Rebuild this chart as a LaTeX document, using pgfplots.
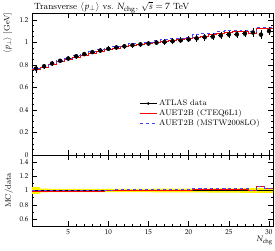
\documentclass[border=0pt]{standalone}
\usepackage[osf]{mathpazo}
\usepackage{pgfplots}
\pgfplotsset{compat=1.18}
\usepackage{pgfplotstable}
\usepgfplotslibrary{fillbetween}

\pgfplotstableread{
N y ey
1 0.767 0.036
2 0.787 0.020
3 0.812 0.019
4 0.836 0.019
5 0.856 0.019
6 0.876 0.020
7 0.895 0.020
8 0.913 0.021
9 0.927 0.021
10 0.942 0.022
11 0.954 0.022
12 0.965 0.023
13 0.975 0.023
14 0.982 0.024
15 0.989 0.024
16 0.997 0.025
17 1.003 0.025
18 1.010 0.026
19 1.017 0.026
20 1.026 0.027
21 1.035 0.028
22 1.045 0.029
23 1.050 0.030
24 1.061 0.031
25 1.069 0.032
26 1.071 0.033
27 1.077 0.034
28 1.087 0.036
29 1.068 0.037
30 1.100 0.038
}\datatab

\pgfplotstableread{
edge red blue rred rblue up lo
0.5 0.759 0.767 0.990 1.000 1.047 0.953
1.5 0.779 0.787 0.990 1.000 1.025 0.975
2.5 0.804 0.812 0.990 1.000 1.023 0.977
3.5 0.828 0.836 0.990 1.000 1.023 0.977
4.5 0.847 0.856 0.990 1.000 1.022 0.978
5.5 0.867 0.880 0.990 1.005 1.023 0.977
6.5 0.886 0.899 0.990 1.005 1.022 0.978
7.5 0.904 0.918 0.990 1.005 1.023 0.977
8.5 0.918 0.932 0.990 1.005 1.023 0.977
9.5 0.937 0.947 0.995 1.005 1.023 0.977
10.5 0.949 0.964 0.995 1.010 1.023 0.977
11.5 0.960 0.975 0.995 1.010 1.024 0.976
12.5 0.975 0.985 1.000 1.010 1.024 0.976
13.5 0.982 0.992 1.000 1.010 1.024 0.976
14.5 0.989 0.999 1.000 1.010 1.024 0.976
15.5 0.997 1.017 1.000 1.020 1.025 0.975
16.5 1.003 1.023 1.000 1.020 1.025 0.975
17.5 1.015 1.030 1.005 1.020 1.026 0.974
18.5 1.022 1.037 1.005 1.020 1.026 0.974
19.5 1.031 1.047 1.005 1.020 1.026 0.974
20.5 1.045 1.066 1.010 1.030 1.027 0.973
21.5 1.055 1.076 1.010 1.030 1.028 0.972
22.5 1.066 1.082 1.015 1.030 1.029 0.971
23.5 1.077 1.093 1.015 1.030 1.029 0.971
24.5 1.090 1.101 1.020 1.030 1.030 0.970
25.5 1.092 1.103 1.020 1.030 1.031 0.969
26.5 1.099 1.109 1.020 1.030 1.032 0.968
27.5 1.082 1.092 0.995 1.005 1.033 0.967
28.5 1.125 1.130 1.053 1.058 1.035 0.965
29.5 1.125 1.135 1.023 1.032 1.035 0.965
30.5 1.125 1.135 1.023 1.032 1.035 0.965
}\steptab

\definecolor{mcblue}{RGB}{70,70,255}

\begin{document}
\begin{tikzpicture}
\pgfplotsset{common/.style={
  scale only axis, width=241pt, xmin=0.5, xmax=30.5,
  tick align=inside, xtick={5,10,15,20,25,30}, minor x tick num=4,
  xtick pos=both, ytick pos=both,
  major tick length=5pt, minor tick length=2.5pt,
  tick label style={font=\scriptsize},
  axis line style={line width=0.5pt},
  every tick/.style={black, line width=0.4pt},
}}
\begin{axis}[common, name=main, at={(0,0)}, anchor=south west, height=142pt,
  ymin=0, ymax=1.26, ytick={0,0.2,0.4,0.6,0.8,1,1.2}, minor y tick num=3,
  xticklabels={},
  ylabel={$\langle p_\perp\rangle$ [GeV]},
  ylabel style={at={(axis description cs:-0.083,1)}, anchor=south east, font=\footnotesize, inner sep=0pt},
  legend style={at={(0.44,0.41)}, anchor=north west, draw=none, fill=none,
    font=\footnotesize, row sep=-1.5pt, inner sep=1pt},
  legend cell align=left,
]
\addlegendimage{legend image code/.code={
  \draw[black, line width=0.6pt] (0cm,0cm) -- (0.6cm,0cm);
  \fill[black] (0.3cm,0cm) circle (1.1pt);}}
\addlegendentry{ATLAS data}
\addlegendimage{legend image code/.code={
  \draw[red, line width=0.9pt] (0cm,0cm) -- (0.6cm,0cm);}}
\addlegendentry{AUET2B (CTEQ6L1)}
\addlegendimage{legend image code/.code={
  \draw[mcblue, dashed, line width=0.9pt] (0cm,0cm) -- (0.6cm,0cm);}}
\addlegendentry{AUET2B (MSTW2008LO)}
\addplot[color=red, line width=1pt, const plot mark left, forget plot] table[x=edge, y=red] {\steptab};
\addplot[color=mcblue, dashed, line width=1pt, const plot mark left, forget plot] table[x=edge, y=blue] {\steptab};
\addplot[black, only marks, mark=*, mark size=1pt, forget plot,
  error bars/.cd, y dir=both, y explicit, error mark=none,
  error bar style={line width=0.5pt}]
  table[x=N, y=y, y error=ey] {\datatab};
\addplot[black, only marks, mark=none, forget plot,
  error bars/.cd, x dir=both, x fixed=0.3, error mark=none,
  error bar style={line width=0.5pt}]
  table[x=N, y=y] {\datatab};
\end{axis}
\node[anchor=base west, inner sep=0pt, font=\small] at ([xshift=2pt,yshift=4pt]main.north west)
  {Transverse $\langle p_\perp\rangle$ vs.\ $N_{\mathrm{chg}}$, $\sqrt{s}=7$ TeV};
\begin{axis}[common, at={(0,0)}, anchor=north west, height=71pt,
  ymin=0.5, ymax=1.5, ytick={0.6,0.8,1,1.2,1.4}, minor y tick num=1,
  ylabel={MC/data}, ylabel style={font=\footnotesize},
  xlabel={$N_{\mathrm{chg}}$},
  xlabel style={at={(rel axis cs:1,0)}, anchor=north east, yshift=-10pt, font=\footnotesize, inner sep=0pt},
]
\addplot[name path=up, draw=none, const plot mark left] table[x=edge, y=up] {\steptab};
\addplot[name path=lo, draw=none, const plot mark left] table[x=edge, y=lo] {\steptab};
\addplot[yellow] fill between[of=up and lo];
\addplot[black, line width=0.6pt] coordinates {(0.5,1) (30.5,1)};
\addplot[color=red, line width=1pt, const plot mark left] table[x=edge, y=rred] {\steptab};
\addplot[color=mcblue, dashed, line width=1pt, const plot mark left] table[x=edge, y=rblue] {\steptab};
\end{axis}
\pgfresetboundingbox
\useasboundingbox (-32pt,-95pt) rectangle (243pt,155pt);
\end{tikzpicture}
\end{document}
